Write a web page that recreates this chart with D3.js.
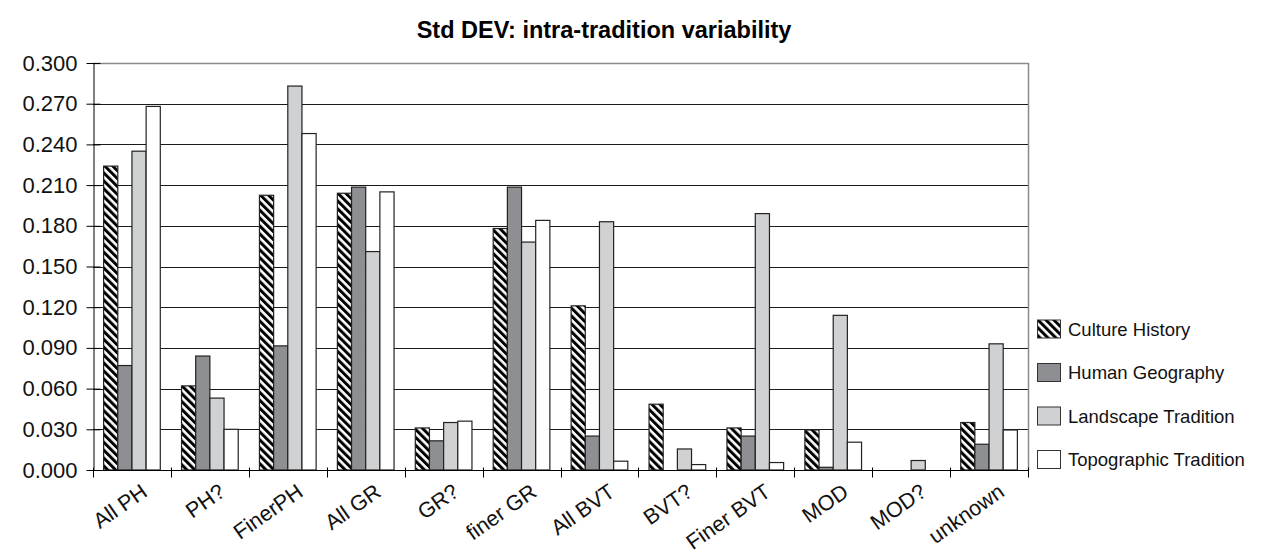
<!DOCTYPE html>
<html>
<head>
<meta charset="utf-8">
<script src="https://cdn.jsdelivr.net/npm/d3@7"></script>
<style>
  html, body { margin: 0; padding: 0; background: #fff; }
  svg { display: block; font-family: "Liberation Sans", Arial, sans-serif; }
</style>
</head>
<body>
<svg id="chart" width="1266" height="556"></svg>
<script>
const categories = ["All PH", "PH?", "FinerPH", "All GR", "GR?", "finer GR", "All BVT", "BVT?", "Finer BVT", "MOD", "MOD?", "unknown"];
const seriesNames = ["Culture History", "Human Geography", "Landscape Tradition", "Topographic Tradition"];
const cultureHistory      = [0.224, 0.062, 0.2025, 0.204, 0.031, 0.178, 0.121, 0.0485, 0.031, 0.0295, 0, 0.035];
const humanGeography      = [0.077, 0.084, 0.0915, 0.2085, 0.0215, 0.2085, 0.025, 0, 0.025, 0.002, 0, 0.019];
const landscapeTradition  = [0.235, 0.053, 0.283, 0.161, 0.035, 0.168, 0.183, 0.0155, 0.189, 0.114, 0.007, 0.093];
const topographicTradition= [0.268, 0.030, 0.248, 0.205, 0.036, 0.184, 0.0065, 0.004, 0.0055, 0.0205, 0, 0.0295];
const yTicks = [0, 0.03, 0.06, 0.09, 0.12, 0.15, 0.18, 0.21, 0.24, 0.27, 0.30];
const title = "Std DEV: intra-tradition variability";

const seriesValues = [cultureHistory, humanGeography, landscapeTradition, topographicTradition];
const fills = ["url(#hatch)", "#8e8f93", "#d0d1d3", "#ffffff"];

const svg = d3.select("#chart");
const plot = { left: 93, right: 1028, top: 63, bottom: 470 };

const defs = svg.append("defs");
const pat = defs.append("pattern")
  .attr("id", "hatch").attr("patternUnits", "userSpaceOnUse")
  .attr("width", 5.6).attr("height", 5.6)
  .attr("patternTransform", "rotate(-45)");
pat.append("rect").attr("width", 5.6).attr("height", 5.6).attr("fill", "#fff");
pat.append("rect").attr("width", 3).attr("height", 5.6).attr("fill", "#000");

const x = d3.scaleBand().domain(categories).range([plot.left, plot.right]).padding(0);
const xs = d3.scaleBand().domain(d3.range(seriesNames.length)).range([0, x.bandwidth()])
  .paddingInner(0).paddingOuter(0.75);
const y = d3.scaleLinear().domain([0, 0.30]).range([plot.bottom, plot.top]);

// gridlines
svg.append("g").selectAll("line").data(yTicks.filter(t => t > 0 && t < 0.30)).join("line")
  .attr("x1", plot.left).attr("x2", plot.right)
  .attr("y1", d => Math.round(y(d)) + 0.5).attr("y2", d => Math.round(y(d)) + 0.5)
  .attr("stroke", "#1a1a1a").attr("stroke-width", 1);

// plot border (top & right gray)
svg.append("path")
  .attr("d", `M${plot.left},${plot.top + 0.5}H${plot.right + 0.5}V${plot.bottom}`)
  .attr("fill", "none").attr("stroke", "#8a8a8a").attr("stroke-width", 1.5);

// bars
const groups = svg.append("g").selectAll("g").data(seriesNames).join("g");
groups.each(function(name, si) {
  d3.select(this).selectAll("rect")
    .data(categories.map((c, i) => ({ c, v: seriesValues[si][i] })).filter(d => d.v > 0))
    .join("rect")
    .attr("x", d => x(d.c) + xs(si))
    .attr("width", xs.bandwidth())
    .attr("y", d => y(d.v))
    .attr("height", d => y(0) - y(d.v))
    .attr("fill", fills[si])
    .attr("stroke", "#222").attr("stroke-width", 1.2);
});

// y axis
const yAxis = d3.axisLeft(y).tickValues(yTicks).tickFormat(d3.format(".3f")).tickSizeInner(7).tickSizeOuter(0).tickPadding(9);
const ya = svg.append("g").attr("transform", `translate(${plot.left + 0.5},0)`).call(yAxis);
ya.select(".domain").attr("stroke", "#000");
ya.selectAll(".tick line").attr("stroke", "#000").attr("x2", -7).attr("x1", 7);
ya.selectAll("text").attr("font-size", 22).attr("fill", "#111")
  .attr("font-family", "Liberation Sans, Arial, sans-serif");

// x axis
const xa = svg.append("g").attr("transform", `translate(0,${plot.bottom + 0.5})`);
xa.append("line").attr("x1", plot.left).attr("x2", plot.right + 1).attr("stroke", "#000");
const bounds = categories.map(c => x(c)).concat([plot.right]);
xa.selectAll("line.tk").data(bounds).join("line").attr("class", "tk")
  .attr("x1", d => Math.round(d) + 0.5).attr("x2", d => Math.round(d) + 0.5)
  .attr("y1", -3).attr("y2", 7).attr("stroke", "#000");
xa.selectAll("text").data(categories).join("text")
  .attr("transform", d => `translate(${x(d) + x.bandwidth() / 2 + 8},${12}) rotate(-35)`)
  .attr("text-anchor", "end").attr("dy", "0.71em")
  .attr("font-size", 21.5).attr("fill", "#111")
  .text(d => d);

// title
svg.append("text").attr("x", 604).attr("y", 38).attr("text-anchor", "middle")
  .attr("font-size", 23.5).attr("font-weight", "bold").attr("fill", "#000").text(title);

// legend
const legendY = [329, 372.5, 416, 459.5];
const lg = svg.append("g").selectAll("g").data(seriesNames).join("g")
  .attr("transform", (d, i) => `translate(1037,${legendY[i]})`);
lg.append("rect").attr("x", 0.5).attr("y", -9).attr("width", 23).attr("height", 18)
  .attr("fill", (d, i) => fills[i]).attr("stroke", "#333");
lg.append("text").attr("x", 31).attr("y", 0).attr("dy", "0.36em")
  .attr("font-size", 18.5).attr("fill", "#111").text(d => d);
</script>
</body>
</html>
